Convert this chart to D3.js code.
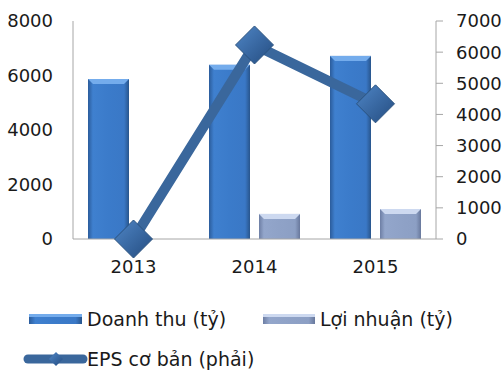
<!DOCTYPE html>
<html>
<head>
<meta charset="utf-8">
<script src="https://cdn.jsdelivr.net/npm/d3@7"></script>
<style>
  body { margin: 0; background: #fff; }
  text { font-family: "DejaVu Sans", Verdana, sans-serif; fill: #1a1a1a; }
</style>
</head>
<body>
<div id="chart"></div>
<script>
// chart data
const years = ["2013", "2014", "2015"];
const revenue = [5870, 6390, 6720];     // Doanh thu (tỷ), left axis
const profit = [0, 920, 1100];          // Lợi nhuận (tỷ), left axis
const eps = [0, 6230, 4340];            // EPS cơ bản, right axis
const leftTicks = [0, 2000, 4000, 6000, 8000];
const rightTicks = [0, 1000, 2000, 3000, 4000, 5000, 6000, 7000];

const width = 503, height = 370;
const margin = { left: 73, right: 67, top: 21, bottom: 131 };

const svg = d3.select("#chart").append("svg")
  .attr("width", width).attr("height", height);

const defs = svg.append("defs");

// horizontal gradients for the bevelled bars
function barGradient(id, stops) {
  const g = defs.append("linearGradient").attr("id", id)
    .attr("x1", "0").attr("x2", "1").attr("y1", "0").attr("y2", "0");
  stops.forEach(s => g.append("stop").attr("offset", s[0]).attr("stop-color", s[1]));
}
barGradient("revGrad", [[0, "#2b5c9b"], [0.12, "#3f80cf"], [0.5, "#3b7bca"], [0.88, "#3a78c6"], [1, "#28558c"]]);
barGradient("profGrad", [[0, "#6d7ea4"], [0.12, "#93a6cb"], [0.5, "#8fa2c7"], [0.88, "#8c9fc4"], [1, "#68789c"]]);
const dg = defs.append("linearGradient").attr("id", "diaGrad")
  .attr("x1", "0").attr("x2", "1").attr("y1", "0").attr("y2", "1");
dg.append("stop").attr("offset", 0).attr("stop-color", "#4f86c6");
dg.append("stop").attr("offset", 1).attr("stop-color", "#244c80");

const x = d3.scaleBand()
  .domain(years)
  .range([margin.left, width - margin.right]);

const yL = d3.scaleLinear().domain([0, 8000]).range([height - margin.bottom, margin.top]);
const yR = d3.scaleLinear().domain([0, 7000]).range([height - margin.bottom, margin.top]);

const barW = 41, gap = 9;

// axes lines
svg.append("line")
  .attr("x1", margin.left).attr("x2", margin.left)
  .attr("y1", yL(8000)).attr("y2", yL(0))
  .attr("stroke", "#a6a6a6");
svg.append("line")
  .attr("x1", width - margin.right).attr("x2", width - margin.right)
  .attr("y1", yR(7000)).attr("y2", yR(0))
  .attr("stroke", "#a6a6a6");

// left tick labels
svg.selectAll(".lt").data(leftTicks).join("text")
  .attr("class", "lt")
  .attr("x", 53).attr("y", d => yL(d))
  .attr("dy", "0.36em")
  .attr("text-anchor", "end")
  .attr("font-size", 18)
  .text(d => d);

// right ticks and labels
svg.selectAll(".rtk").data(rightTicks).join("line")
  .attr("class", "rtk")
  .attr("x1", width - margin.right).attr("x2", width - margin.right + 7)
  .attr("y1", d => yR(d)).attr("y2", d => yR(d))
  .attr("stroke", "#a6a6a6");
svg.selectAll(".rt").data(rightTicks).join("text")
  .attr("class", "rt")
  .attr("x", 456).attr("y", d => yR(d))
  .attr("dy", "0.36em")
  .attr("font-size", 18)
  .text(d => d);

// bars
function drawBars(values, offset, grad, bevel) {
  const g = svg.append("g");
  values.forEach((v, i) => {
    if (v <= 0) return;
    const x0 = x(years[i]) + x.bandwidth() / 2 + offset;
    const y0 = yL(v), y1 = yL(0);
    g.append("rect")
      .attr("x", x0).attr("y", y0)
      .attr("width", barW).attr("height", y1 - y0)
      .attr("fill", `url(#${grad})`);
    // top bevel
    const b = 5;
    g.append("path")
      .attr("d", `M${x0},${y0} L${x0 + barW},${y0} L${x0 + barW - b},${y0 + b} L${x0 + b},${y0 + b} Z`)
      .attr("fill", bevel);
  });
}
drawBars(revenue, -(barW + gap / 2), "revGrad", "#74acec");
drawBars(profit, gap / 2, "profGrad", "#cdd9f0");

// baseline
svg.append("line")
  .attr("x1", margin.left).attr("x2", width - margin.right)
  .attr("y1", yL(0)).attr("y2", yL(0))
  .attr("stroke", "#a6a6a6");

// EPS line
const line = d3.line()
  .x((d, i) => x(years[i]) + x.bandwidth() / 2)
  .y(d => yR(d));
svg.append("path")
  .datum(eps)
  .attr("d", line)
  .attr("fill", "none")
  .attr("stroke", "#3a679c")
  .attr("stroke-width", 10);

const dia = 19;
svg.selectAll(".dia").data(eps).join("path")
  .attr("class", "dia")
  .attr("transform", (d, i) => `translate(${x(years[i]) + x.bandwidth() / 2},${yR(d)})`)
  .attr("d", `M0,${-dia} L${dia},0 L0,${dia} L${-dia},0 Z`)
  .attr("fill", "url(#diaGrad)")
  .attr("stroke", "#2a527f")
  .attr("stroke-width", 1);

// year labels
svg.selectAll(".yr").data(years).join("text")
  .attr("class", "yr")
  .attr("x", d => x(d) + x.bandwidth() / 2)
  .attr("y", 267)
  .attr("dy", "0.36em")
  .attr("text-anchor", "middle")
  .attr("font-size", 18)
  .text(d => d);

// legend
const lg = svg.append("g");
lg.append("rect").attr("x", 29).attr("y", 314).attr("width", 53).attr("height", 10)
  .attr("fill", "url(#revGrad)");
lg.append("rect").attr("x", 29).attr("y", 314).attr("width", 53).attr("height", 3)
  .attr("fill", "#74acec");
lg.append("text").attr("x", 87).attr("y", 319).attr("dy", "0.36em")
  .attr("font-size", 19).text("Doanh thu (tỷ)");

lg.append("rect").attr("x", 263).attr("y", 314).attr("width", 52).attr("height", 10)
  .attr("fill", "url(#profGrad)");
lg.append("rect").attr("x", 263).attr("y", 314).attr("width", 52).attr("height", 3)
  .attr("fill", "#cdd9f0");
lg.append("text").attr("x", 320).attr("y", 319).attr("dy", "0.36em")
  .attr("font-size", 19).text("Lợi nhuận (tỷ)");

lg.append("line").attr("x1", 28).attr("x2", 83).attr("y1", 359).attr("y2", 359)
  .attr("stroke", "#3a679c").attr("stroke-width", 9).attr("stroke-linecap", "round");
lg.append("path")
  .attr("transform", "translate(56,359)")
  .attr("d", "M0,-7 L7,0 L0,7 L-7,0 Z")
  .attr("fill", "url(#diaGrad)");
lg.append("text").attr("x", 87).attr("y", 359).attr("dy", "0.36em")
  .attr("font-size", 19).text("EPS cơ bản (phải)");
</script>
</body>
</html>
